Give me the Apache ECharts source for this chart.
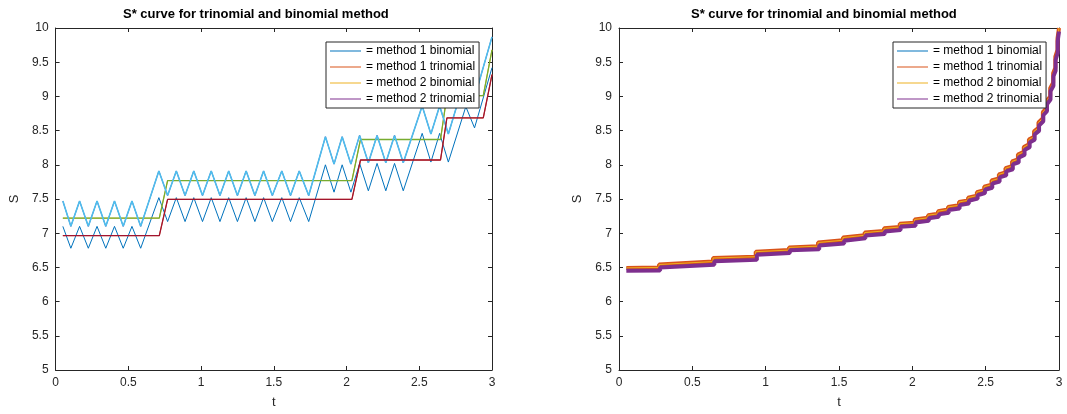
<!DOCTYPE html>
<html lang="en">
<head>
<meta charset="UTF-8">
<title>S* curve</title>
<script src="https://cdn.jsdelivr.net/npm/echarts@6/dist/echarts.min.js"></script>
<style>
  body { margin: 0; background: #fff; }
  #left { position: absolute; left: 0; top: 0; width: 534px; height: 414px; }
  #right { position: absolute; left: 534px; top: 0; width: 533px; height: 414px; }
</style>
</head>
<body>
<div id="left"></div>
<div id="right"></div>
<script>
// ---- data ----
var titleText = 'S* curve for trinomial and binomial method';
var legendNames = ['= method 1 binomial', '= method 1 trinomial', '= method 2 binomial', '= method 2 trinomial'];

// left panel: zigzag binomial curves
var tZigA = [0.05, 0.105, 0.165, 0.225, 0.285, 0.345, 0.405, 0.465, 0.525, 0.585,
             0.71, 0.77, 0.83, 0.89, 0.95, 1.01, 1.07, 1.13, 1.19, 1.25, 1.31, 1.37, 1.43, 1.49, 1.555, 1.615, 1.675, 1.74,
             1.855, 1.914, 1.97, 2.03, 2.09, 2.15, 2.21, 2.27, 2.33, 2.39,
             2.52, 2.58, 2.64, 2.70, 2.82, 2.88, 3.0];
var sM1Bin = [7.10, 6.78, 7.10, 6.78, 7.10, 6.78, 7.10, 6.78, 7.10, 6.78,
              7.52, 7.17, 7.52, 7.17, 7.52, 7.17, 7.52, 7.17, 7.52, 7.17, 7.52, 7.17, 7.52, 7.17, 7.52, 7.17, 7.52, 7.17,
              8.00, 7.60, 8.00, 7.60, 8.02, 7.62, 8.02, 7.62, 8.02, 7.62,
              8.46, 8.04, 8.46, 8.04, 8.85, 8.54, 9.42];
var sM2Tri = [7.47, 7.10, 7.47, 7.10, 7.47, 7.10, 7.47, 7.10, 7.47, 7.10,
              7.91, 7.55, 7.91, 7.55, 7.91, 7.55, 7.91, 7.55, 7.91, 7.55, 7.91, 7.55, 7.91, 7.55, 7.91, 7.55, 7.91, 7.55,
              8.41, 8.01, 8.41, 8.01, 8.43, 8.03, 8.43, 8.03, 8.43, 8.03,
              8.86, 8.45, 8.86, 8.45, 9.30, 8.98, 9.87];
// left panel: step trinomial / method 2 curves
var tStep = [0.05, 0.713, 0.77, 2.037, 2.096, 2.646, 2.69, 2.94, 3.0];
var sM1Tri = [6.965, 6.965, 7.495, 7.495, 8.07, 8.07, 8.685, 8.685, 9.32];
var sM2Bin = [7.22, 7.22, 7.77, 7.77, 8.37, 8.37, 9.01, 9.01, 9.68];

// right panel: staircase curves
var tUpper = [0.05, 0.273, 0.273, 0.641, 0.641, 0.932, 0.932, 1.159, 1.159, 1.357, 1.357, 1.527, 1.527, 1.675, 1.675,
              1.807, 1.807, 1.914, 1.914, 2.016, 2.016, 2.107, 2.107, 2.175, 2.175, 2.243, 2.243, 2.318, 2.318,
              2.38, 2.38, 2.44, 2.44, 2.49, 2.49, 2.54, 2.54, 2.59, 2.59, 2.635, 2.635, 2.68, 2.68, 2.72, 2.72,
              2.76, 2.76, 2.795, 2.795, 2.83, 2.83, 2.86, 2.86, 2.89, 2.89, 2.915, 2.915, 2.94, 2.94, 2.96, 2.96,
              2.975, 2.975, 2.99, 2.99, 3.0];
var sUpper = [6.493, 6.50, 6.542, 6.585, 6.637, 6.657, 6.73, 6.753, 6.792, 6.811, 6.864, 6.897, 6.936, 6.97, 7.009,
              7.033, 7.071, 7.09, 7.139, 7.153, 7.201, 7.225, 7.264, 7.283, 7.322, 7.346, 7.384, 7.408, 7.457,
              7.48, 7.52, 7.55, 7.60, 7.63, 7.68, 7.71, 7.77, 7.80, 7.86, 7.89, 7.95, 7.98, 8.05, 8.08, 8.15,
              8.19, 8.26, 8.30, 8.37, 8.41, 8.49, 8.54, 8.62, 8.68, 8.77, 8.83, 8.93, 9.00, 9.12, 9.20, 9.34,
              9.42, 9.58, 9.68, 9.85, 10.0];
var tLower = [0.05, 0.28, 0.28, 0.65, 0.65, 0.94, 0.94, 1.165, 1.165, 1.365, 1.365, 1.535, 1.535, 1.68, 1.68,
              1.812, 1.812, 1.92, 1.92, 2.022, 2.022, 2.112, 2.112, 2.18, 2.18, 2.248, 2.248, 2.322, 2.322,
              2.385, 2.385, 2.445, 2.445, 2.495, 2.495, 2.545, 2.545, 2.595, 2.595, 2.64, 2.64, 2.685, 2.685, 2.725, 2.725,
              2.765, 2.765, 2.8, 2.8, 2.834, 2.834, 2.864, 2.864, 2.893, 2.893, 2.918, 2.918, 2.942, 2.942, 2.962, 2.962,
              2.977, 2.977, 2.991, 2.991, 3.0];
var sLower = [6.45, 6.455, 6.50, 6.54, 6.59, 6.61, 6.685, 6.71, 6.75, 6.765, 6.82, 6.85, 6.89, 6.925, 6.965,
              6.99, 7.025, 7.045, 7.095, 7.11, 7.155, 7.18, 7.22, 7.24, 7.275, 7.30, 7.34, 7.36, 7.41,
              7.435, 7.475, 7.505, 7.555, 7.585, 7.635, 7.665, 7.725, 7.755, 7.815, 7.845, 7.905, 7.935, 8.005, 8.035, 8.105,
              8.145, 8.215, 8.255, 8.325, 8.365, 8.445, 8.495, 8.575, 8.635, 8.725, 8.785, 8.885, 8.955, 9.075, 9.155, 9.295,
              9.375, 9.535, 9.635, 9.805, 9.95];

// matlab colour order
var colors = ['#0072BD', '#D95319', '#EDB120', '#7E2F8E', '#77AC30', '#4DBEEE', '#A2142F'];

function pairs(ts, ss) {
    return ts.map(function (t, i) { return [t, ss[i]]; });
}

var font = 'Liberation Sans, Arial, sans-serif';
var axisColor = '#262626';

function lineSeries(name, data, color, width) {
    return {
        name: name,
        type: 'line',
        data: data,
        showSymbol: false,
        symbol: 'none',
        lineStyle: { color: color, width: width },
        itemStyle: { color: color },
        animation: false
    };
}

function axes() {
    var common = {
        type: 'value',
        axisLine: { show: true, onZero: false, lineStyle: { color: axisColor, width: 1 } },
        axisTick: { show: true, inside: true, length: 4, lineStyle: { color: axisColor } },
        splitLine: { show: false }
    };
    var label = { color: axisColor, fontSize: 12, fontFamily: font };
    return {
        xAxis: [
            Object.assign({}, common, { position: 'bottom', min: 0, max: 3, interval: 0.5,
                axisLabel: Object.assign({ margin: 7 }, label),
                name: 't', nameLocation: 'middle', nameGap: 26,
                nameTextStyle: { color: axisColor, fontSize: 13, fontFamily: font } }),
            Object.assign({}, common, { position: 'top', min: 0, max: 3, interval: 0.5,
                axisLabel: { show: false } })
        ],
        yAxis: [
            Object.assign({}, common, { position: 'left', min: 5, max: 10, interval: 0.5,
                axisLabel: Object.assign({ margin: 7 }, label),
                name: 'S', nameLocation: 'middle', nameGap: 19,
                nameTextStyle: { color: axisColor, fontSize: 13, fontFamily: font } }),
            Object.assign({}, common, { position: 'right', min: 5, max: 10, interval: 0.5,
                axisLabel: { show: false } })
        ]
    };
}

function baseOption(gridLeft, titleLeft, legendLeft) {
    var ax = axes();
    return {
        backgroundColor: '#fff',
        animation: false,
        title: {
            text: titleText, left: titleLeft, top: 8, padding: 0,
            textStyle: { fontSize: 13, fontWeight: 'bold', color: '#000', fontFamily: font }
        },
        legend: {
            data: legendNames, orient: 'vertical', left: legendLeft, top: 42,
            padding: [3, 4, 3, 4], itemWidth: 31, itemHeight: 13, itemGap: 4,
            // plain line sample, no marker
            icon: 'path://M0,0L31,0L31,1L0,1Z',
            backgroundColor: '#fff', borderColor: axisColor, borderWidth: 1, borderRadius: 0,
            textStyle: { fontSize: 12, color: '#000', fontFamily: font },
            selectedMode: false
        },
        grid: { left: gridLeft, top: 28, width: 440, height: 346, containLabel: false },
        xAxis: ax.xAxis,
        yAxis: ax.yAxis
    };
}

// left chart
var leftChart = echarts.init(document.getElementById('left'));
var leftOption = baseOption(52, 123, 326);
leftOption.series = [
    lineSeries(legendNames[0], pairs(tZigA, sM1Bin), colors[0], 1),
    lineSeries(legendNames[1], pairs(tStep, sM1Tri), colors[1], 1),
    lineSeries(legendNames[2], pairs(tStep, sM2Bin), colors[2], 1),
    lineSeries(legendNames[3], pairs(tZigA, sM2Tri), colors[3], 1),
    lineSeries('m2 binomial (b)', pairs(tStep, sM2Bin), colors[4], 1.3),
    lineSeries('m2 trinomial (b)', pairs(tZigA, sM2Tri), colors[5], 1.6),
    lineSeries('m1 trinomial (b)', pairs(tStep, sM1Tri), colors[6], 1.3)
];
leftChart.setOption(leftOption);

// right chart
var rightChart = echarts.init(document.getElementById('right'));
var rightOption = baseOption(85, 157, 359);
rightOption.series = [
    lineSeries(legendNames[0], pairs(tUpper, sUpper), colors[0], 1),
    lineSeries(legendNames[1], pairs(tUpper, sUpper), colors[1], 4),
    lineSeries(legendNames[2], pairs(tUpper, sUpper), colors[2], 1),
    lineSeries(legendNames[3], pairs(tLower, sLower), colors[3], 4)
];
rightChart.setOption(rightOption);
</script>
</body>
</html>
